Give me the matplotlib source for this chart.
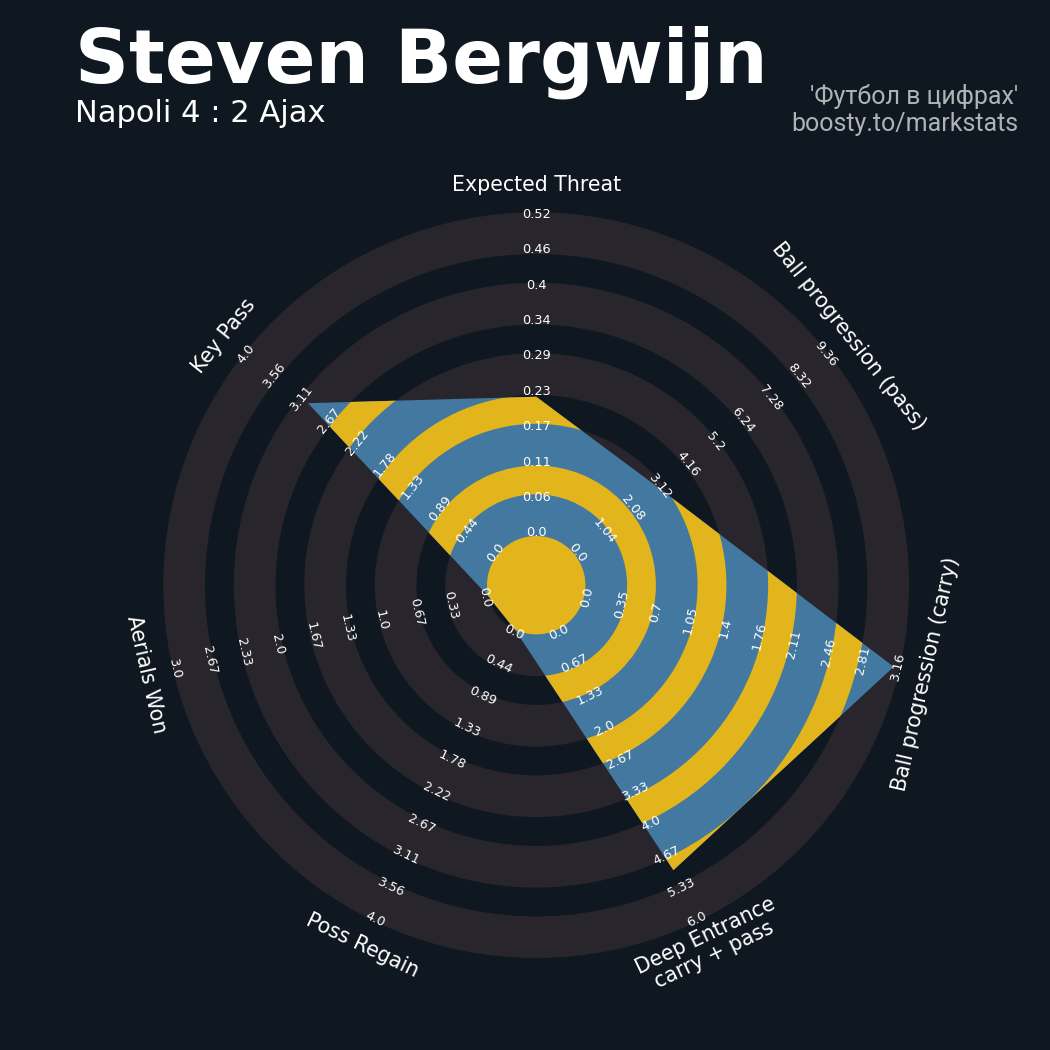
import numpy as np
import matplotlib
matplotlib.use('Agg')
import matplotlib.pyplot as plt
from matplotlib.patches import Wedge, Circle, Polygon

# ---------------- data ----------------
params = ['Expected Threat', 'Ball progression (pass)', 'Ball progression (carry)',
          'Deep Entrance\ncarry + pass', 'Poss Regain', 'Aerials Won', 'Key Pass']
min_range = [0.0, 0.0, 0.0, 0.0, 0.0, 0.0, 0.0]
max_range = [0.516, 9.36, 3.16, 6.0, 4.0, 3.0, 4.0]
values = [0.222, 3.1, 3.10, 4.95, 0.0, 0.0, 3.0]

title = 'Steven Bergwijn'
subtitle = 'Napoli 4 : 2 Ajax'
credit_lines = ["'Футбол в цифрах'", 'boosty.to/markstats']

# ---------------- style ----------------
BG = '#0f1820'
RING = '#28252c'
BLUE = '#4378a0'
YELLOW = '#e3b51d'
CREDIT = '#b0b3b6'

W, H = 1050, 1050
fig = plt.figure(figsize=(W / 100, H / 100), dpi=100, facecolor=BG)

cx, cy = 536.2, 585.2   # radar centre (px from top-left)
L = 440
ax = fig.add_axes([(cx - L) / W, (H - cy - L) / H, 2 * L / W, 2 * L / H])
ax.set_xlim(-L, L)
ax.set_ylim(-L, L)
ax.set_aspect('equal')
ax.axis('off')

C = 49.2        # centre circle radius
R = 372.9       # outer radius
W_RING = 41.7
n_rings = 5
W_GAP = (R - C - n_rings * W_RING) / (n_rings - 1)
ring_inner = [C + k * (W_RING + W_GAP) for k in range(n_rings)]

for r0 in ring_inner:
    ax.add_patch(Wedge((0, 0), r0 + W_RING, 0, 360, width=W_RING,
                       facecolor=RING, edgecolor='none', zorder=1))

n = len(params)
ang_deg = 90 - 360.0 / n * np.arange(n)
ang_deg = (ang_deg + 180) % 360 - 180
ang = np.deg2rad(ang_deg)

vmin = np.array(min_range)
vmax = np.array(max_range)
frac = (np.array(values) - vmin) / (vmax - vmin)
radii = C + frac * (R - C)
verts = np.column_stack([radii * np.cos(ang), radii * np.sin(ang)])

ax.add_patch(Polygon(verts, closed=True, facecolor=BLUE, edgecolor='none', zorder=2))

clips = [Circle((0, 0), C)] + [
    Wedge((0, 0), r0 + W_RING + W_GAP, 0, 360, width=W_GAP) for r0 in ring_inner[:-1]
]
for clip in clips:
    clip.set_transform(ax.transData)
    p = Polygon(verts, closed=True, facecolor=YELLOW, edgecolor='none', zorder=3)
    ax.add_patch(p)
    p.set_clip_path(clip)


def rot_for(deg):
    return deg - 90 if deg > 0 else deg + 90


label_r = np.linspace(C + 3, R - 2, 10)
for j in range(n):
    ticks = np.linspace(min_range[j], max_range[j], 10)
    rot = rot_for(ang_deg[j])
    for i, t in enumerate(ticks):
        r = label_r[i]
        ax.text(r * np.cos(ang[j]), r * np.sin(ang[j]), str(round(float(t), 2)),
                rotation=rot, rotation_mode='anchor', ha='center', va='center',
                color='white', fontsize=9.3, zorder=5, clip_on=False)
    pr = 400
    ax.text(pr * np.cos(ang[j]), pr * np.sin(ang[j]), params[j],
            rotation=rot, rotation_mode='anchor', ha='center', va='center',
            multialignment='center', color='white', fontsize=14.8, zorder=5,
            clip_on=False, linespacing=1.05)

# ---------------- titles ----------------
fig.text(75 / W, 1 - 83 / H, title, color='white', fontsize=54, fontweight='bold',
         ha='left', va='baseline', family='DejaVu Sans')
fig.text(75 / W, 1 - 122 / H, subtitle, color='white', fontsize=22,
         ha='left', va='baseline', family='DejaVu Sans')
fig.text(1018 / W, 1 - 104 / H, credit_lines[0], color=CREDIT, fontsize=18,
         ha='right', va='baseline', family=['Roboto', 'DejaVu Sans'])
fig.text(1018 / W, 1 - 131 / H, credit_lines[1], color=CREDIT, fontsize=18,
         ha='right', va='baseline', family=['Roboto', 'DejaVu Sans'])

fig.savefig('out.png', dpi=100, facecolor=BG)
